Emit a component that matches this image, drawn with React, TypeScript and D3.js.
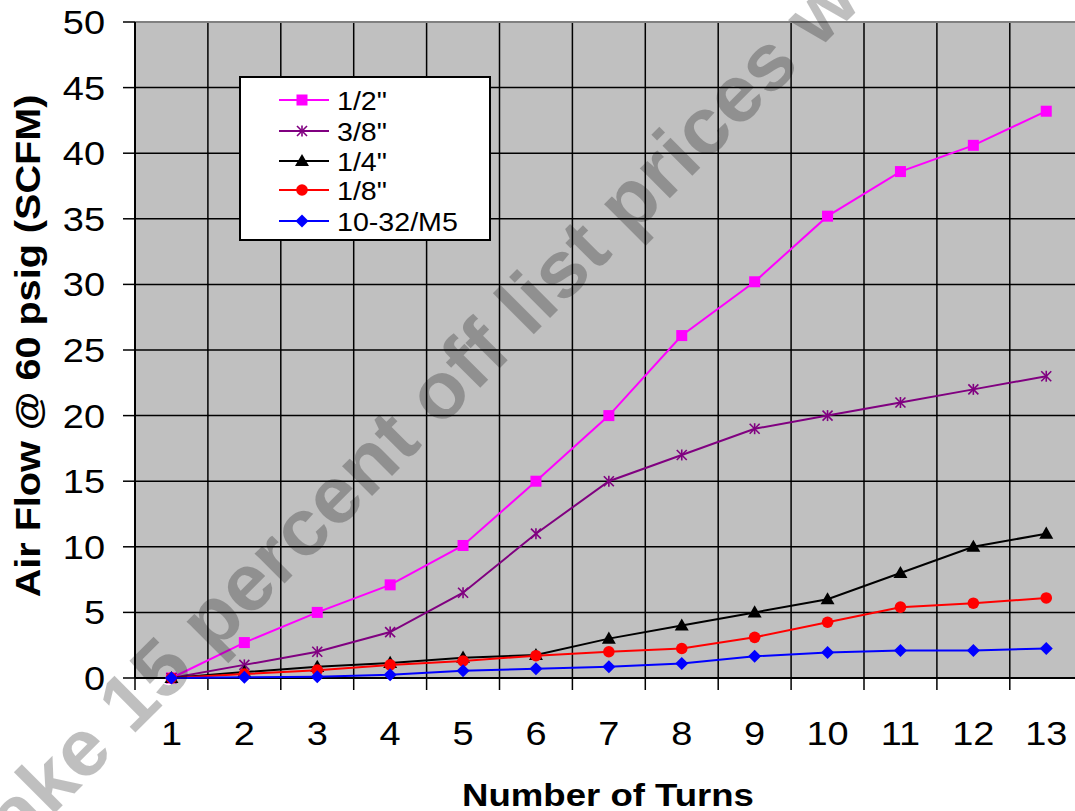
import React from 'react';
import * as d3 from 'd3';

const categories = ['1', '2', '3', '4', '5', '6', '7', '8', '9', '10', '11', '12', '13'];
const halfInch = [0, 2.7, 5.0, 7.1, 10.1, 15.0, 20.0, 26.1, 30.2, 35.2, 38.6, 40.6, 43.2];
const threeEighths = [0, 1.0, 2.0, 3.5, 6.5, 11.0, 15.0, 17.0, 19.0, 20.0, 21.0, 22.0, 23.0];
const quarterInch = [0, 0.45, 0.85, 1.15, 1.55, 1.75, 3.0, 4.0, 5.0, 6.0, 8.0, 10.0, 11.0];
const eighthInch = [0, 0.3, 0.6, 1.0, 1.3, 1.7, 2.0, 2.25, 3.1, 4.25, 5.4, 5.7, 6.1];
const m5 = [0, 0.05, 0.1, 0.25, 0.55, 0.7, 0.85, 1.1, 1.65, 1.95, 2.1, 2.1, 2.25];

const seriesNames = ['1/2"', '3/8"', '1/4"', '1/8"', '10-32/M5'];
const seriesValues = [halfInch, threeEighths, quarterInch, eighthInch, m5];
const seriesColors = ['#FF00FF', '#800080', '#000000', '#FF0000', '#0000FF'];
const seriesMarkers = ['square', 'star', 'triangle', 'circle', 'diamond'];
const yTicks = [0, 5, 10, 15, 20, 25, 30, 35, 40, 45, 50];

const W = 1075;
const H = 811;
const plotLeft = 135;
const plotTop = 22;
const plotBottom = 678;
const bandW = 72.9;
const FONT = "'Liberation Sans', Arial, Helvetica, sans-serif";

function Marker({ kind, cx, cy, color }: { kind: string; cx: number; cy: number; color: string }) {
  if (kind === 'square') {
    const s = 11;
    return <rect x={cx - s / 2} y={cy - s / 2} width={s} height={s} fill={color} />;
  }
  if (kind === 'circle') {
    return <circle cx={cx} cy={cy} r={5.8} fill={color} />;
  }
  if (kind === 'triangle') {
    const s = 13;
    const sym = d3.symbol().type(d3.symbolTriangle).size(s * s * 0.5)();
    return <path d={sym || ''} transform={`translate(${cx},${cy + 1})`} fill={color} />;
  }
  if (kind === 'diamond') {
    const r = 6.5;
    return <path d={`M${cx},${cy - r}L${cx + r},${cy}L${cx},${cy + r}L${cx - r},${cy}Z`} fill={color} />;
  }
  // star (asterisk): vertical + X
  const r = 5;
  return (
    <g stroke={color} strokeWidth={1.6}>
      <line x1={cx} y1={cy - r - 0.5} x2={cx} y2={cy + r + 0.5} />
      <line x1={cx - r} y1={cy - r} x2={cx + r} y2={cy + r} />
      <line x1={cx - r} y1={cy + r} x2={cx + r} y2={cy - r} />
    </g>
  );
}

export default function App() {
  const x = d3.scaleBand<string>().domain(categories).range([plotLeft, plotLeft + bandW * categories.length]).padding(0);
  const y = d3.scaleLinear().domain([0, 50]).range([plotBottom, plotTop]);
  const cxOf = (i: number) => (x(categories[i]) as number) + x.bandwidth() / 2;
  const line = d3
    .line<number>()
    .x((_, i) => cxOf(i))
    .y((d) => y(d));

  const boundaries = categories.map((c) => x(c) as number);
  const plotRight = plotLeft + bandW * categories.length;

  const legendX = 240;
  const legendY = 77;
  const legendW = 250;
  const legendH = 163;
  const legendRowY = [100, 131, 161, 190, 221];

  return (
    <svg
      width={W}
      height={H}
      style={{ position: 'absolute', left: 0, top: 0, background: '#fff' }}
      fontFamily={FONT}
    >
      <rect x={0} y={0} width={W} height={H} fill="#fff" />
      {/* plot area */}
      <rect x={plotLeft} y={plotTop} width={plotRight - plotLeft} height={plotBottom - plotTop} fill="#C0C0C0" />
      {/* horizontal gridlines */}
      {yTicks
        .filter((t) => t > 0 && t < 50)
        .map((t) => (
          <line key={'h' + t} x1={plotLeft} x2={plotRight} y1={y(t)} y2={y(t)} stroke="#000" strokeWidth={1.5} />
        ))}
      {/* vertical gridlines */}
      {boundaries.slice(1).map((bx, i) => (
        <line key={'v' + i} x1={bx} x2={bx} y1={plotTop} y2={plotBottom} stroke="#000" strokeWidth={1.5} />
      ))}
      {/* top border */}
      <line x1={plotLeft} x2={plotRight} y1={plotTop} y2={plotTop} stroke="#808080" strokeWidth={2} />
      {/* axes */}
      <line x1={plotLeft} x2={plotLeft} y1={plotTop} y2={plotBottom} stroke="#000" strokeWidth={2} />
      <line x1={plotLeft} x2={plotRight} y1={plotBottom} y2={plotBottom} stroke="#000" strokeWidth={2} />
      {/* y ticks */}
      {yTicks.map((t) => (
        <g key={'yt' + t}>
          <line x1={plotLeft - 12} x2={plotLeft} y1={y(t)} y2={y(t)} stroke="#000" strokeWidth={1.5} />
          <text
            transform={`translate(${plotLeft - 30},${y(t) + 12}) scale(1.15,1)`}
            textAnchor="end"
            fontSize={33}
            fill="#000"
          >
            {t}
          </text>
        </g>
      ))}
      {/* x ticks */}
      {boundaries.map((bx, i) => (
        <line key={'xt' + i} x1={bx} x2={bx} y1={plotBottom} y2={plotBottom + 12} stroke="#000" strokeWidth={1.5} />
      ))}
      {categories.map((c, i) => (
        <text
          key={'xl' + c}
          transform={`translate(${cxOf(i)},${745}) scale(1.15,1)`}
          textAnchor="middle"
          fontSize={33}
          fill="#000"
        >
          {c}
        </text>
      ))}
      {/* axis titles */}
      <text
        transform={`translate(608,806) scale(1.18,1)`}
        textAnchor="middle"
        fontSize={31}
        fontWeight="bold"
        fill="#000"
      >
        Number of Turns
      </text>
      <text
        transform={`translate(40,346) rotate(-90) scale(1.1,1)`}
        textAnchor="middle"
        fontSize={36}
        fontWeight="bold"
        fill="#000"
      >
        Air Flow @ 60 psig (SCFM)
      </text>
      {/* series */}
      {seriesValues.map((vals, si) => (
        <g key={'s' + si}>
          <path d={line(vals) || ''} fill="none" stroke={seriesColors[si]} strokeWidth={2} />
          {vals.map((v, i) => (
            <Marker key={i} kind={seriesMarkers[si]} cx={cxOf(i)} cy={y(v)} color={seriesColors[si]} />
          ))}
        </g>
      ))}
      {/* legend */}
      <rect x={legendX} y={legendY} width={legendW} height={legendH} fill="#fff" stroke="#000" strokeWidth={2} />
      {seriesNames.map((n, si) => (
        <g key={'lg' + si}>
          <line x1={279} x2={329} y1={legendRowY[si]} y2={legendRowY[si]} stroke={seriesColors[si]} strokeWidth={2} />
          <Marker kind={seriesMarkers[si]} cx={302} cy={legendRowY[si]} color={seriesColors[si]} />
          <text
            transform={`translate(337,${legendRowY[si] + 9.5}) scale(1.1,1)`}
            fontSize={26}
            fill="#000"
          >
            {n}
          </text>
        </g>
      ))}
      {/* watermark */}
      <text
        transform={`translate(-13,881) rotate(-45) scale(1.03,1)`}
        fontSize={80}
        fontWeight="bold"
        fill="#000"
        fillOpacity={0.25}
      >
        Take 15 percent off list prices w
      </text>
    </svg>
  );
}
